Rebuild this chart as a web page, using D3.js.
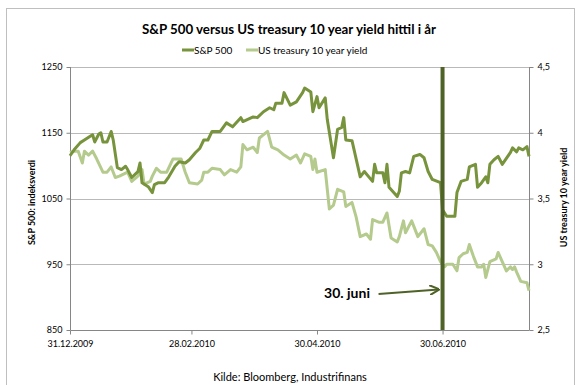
<!DOCTYPE html>
<html>
<head>
<meta charset="utf-8">
<script src="https://cdn.jsdelivr.net/npm/d3@7"></script>
<style>
  body { margin: 0; background: #fff; }
  text { font-family: Lato, "Open Sans", sans-serif; fill: #000; }
</style>
</head>
<body>
<div id="chart"></div>
<script>
(function () {
    // S&P 500 (left axis)
    let spxDates = ["2009-12-31","2010-01-02","2010-01-05","2010-01-07","2010-01-10","2010-01-11","2010-01-12","2010-01-14","2010-01-15","2010-01-16",
        "2010-01-18","2010-01-20","2010-01-21","2010-01-23","2010-01-25","2010-01-27","2010-01-28","2010-01-30","2010-02-02","2010-02-03",
        "2010-02-04","2010-02-07","2010-02-09","2010-02-10","2010-02-12","2010-02-15","2010-02-17","2010-02-20","2010-02-22","2010-02-25",
        "2010-02-27","2010-03-02","2010-03-04","2010-03-06","2010-03-08","2010-03-10","2010-03-14","2010-03-17","2010-03-20","2010-03-24",
        "2010-03-25","2010-03-30","2010-04-01","2010-04-04","2010-04-07","2010-04-09","2010-04-10","2010-04-13","2010-04-14","2010-04-17",
        "2010-04-20","2010-04-23","2010-04-24","2010-04-27","2010-04-28","2010-04-30","2010-05-01","2010-05-04","2010-05-05","2010-05-08",
        "2010-05-10","2010-05-12","2010-05-13","2010-05-14","2010-05-17","2010-05-21","2010-05-23","2010-05-27","2010-05-28","2010-05-29",
        "2010-06-01","2010-06-02","2010-06-03","2010-06-04","2010-06-08","2010-06-09","2010-06-10","2010-06-12","2010-06-14","2010-06-16",
        "2010-06-19","2010-06-21","2010-06-23","2010-06-25","2010-06-29","2010-06-30","2010-07-02","2010-07-06","2010-07-07","2010-07-09",
        "2010-07-12","2010-07-13","2010-07-16","2010-07-17","2010-07-19","2010-07-21","2010-07-22","2010-07-23","2010-07-25","2010-07-27",
        "2010-07-29","2010-08-02","2010-08-03","2010-08-05","2010-08-06","2010-08-08","2010-08-10","2010-08-11"]
    let spxValues = [1115,1124,1135,1139,1145,1147,1136,1148,1150,1136,
        1136,1152,1139,1097,1094,1099,1094,1082,1091,1104,
        1074,1068,1059,1071,1074,1074,1083,1099,1106,1104,
        1109,1120,1126,1139,1139,1152,1152,1165,1159,1173,
        1167,1174,1173,1182,1188,1185,1195,1195,1211,1192,
        1197,1211,1218,1212,1182,1205,1188,1203,1170,1112,
        1155,1158,1173,1139,1138,1083,1091,1076,1102,1089,
        1089,1074,1102,1067,1053,1061,1089,1091,1089,1114,
        1117,1112,1091,1079,1074,1033,1023,1023,1059,1076,
        1079,1098,1102,1067,1074,1083,1074,1102,1109,1114,
        1102,1120,1127,1121,1127,1124,1129,1114]

    // US treasury 10 year yield (right axis)
    let yieldDates = ["2009-12-31","2010-01-02","2010-01-04","2010-01-06","2010-01-07","2010-01-09","2010-01-11","2010-01-13","2010-01-16","2010-01-18",
        "2010-01-20","2010-01-22","2010-01-24","2010-01-28","2010-01-30","2010-02-02","2010-02-04","2010-02-05","2010-02-08","2010-02-09",
        "2010-02-11","2010-02-13","2010-02-16","2010-02-19","2010-02-21","2010-02-23","2010-02-25","2010-02-27","2010-03-03","2010-03-05",
        "2010-03-06","2010-03-08","2010-03-10","2010-03-14","2010-03-16","2010-03-19","2010-03-22","2010-03-24","2010-03-25","2010-03-27",
        "2010-03-30","2010-04-01","2010-04-02","2010-04-06","2010-04-08","2010-04-11","2010-04-14","2010-04-17","2010-04-20","2010-04-22",
        "2010-04-24","2010-04-27","2010-04-28","2010-04-29","2010-04-30","2010-05-04","2010-05-06","2010-05-08","2010-05-10","2010-05-13",
        "2010-05-14","2010-05-17","2010-05-19","2010-05-21","2010-05-24","2010-05-26","2010-05-27","2010-05-30","2010-06-01","2010-06-03",
        "2010-06-05","2010-06-08","2010-06-09","2010-06-11","2010-06-12","2010-06-15","2010-06-18","2010-06-21","2010-06-23","2010-06-25",
        "2010-06-27","2010-06-29","2010-07-01","2010-07-02","2010-07-05","2010-07-07","2010-07-08","2010-07-10","2010-07-12","2010-07-13",
        "2010-07-15","2010-07-17","2010-07-19","2010-07-20","2010-07-21","2010-07-23","2010-07-26","2010-07-27","2010-07-29","2010-07-31",
        "2010-08-02","2010-08-03","2010-08-04","2010-08-05","2010-08-07","2010-08-10","2010-08-11"]
    let yieldValues = [3.85,3.86,3.86,3.77,3.86,3.83,3.86,3.80,3.70,3.70,
        3.74,3.66,3.67,3.70,3.63,3.67,3.72,3.61,3.63,3.67,
        3.73,3.70,3.70,3.80,3.80,3.80,3.70,3.62,3.61,3.64,
        3.70,3.70,3.73,3.72,3.68,3.72,3.70,3.74,3.91,3.87,
        3.89,3.85,3.96,4.01,3.89,3.87,3.83,3.80,3.83,3.77,
        3.84,3.82,3.72,3.80,3.70,3.72,3.42,3.45,3.57,3.55,
        3.44,3.47,3.36,3.21,3.23,3.19,3.34,3.32,3.32,3.39,
        3.20,3.17,3.21,3.33,3.24,3.33,3.21,3.27,3.15,3.14,
        3.09,3.02,2.98,3.00,3.00,2.95,3.05,3.08,3.09,3.15,
        3.06,2.98,2.98,3.00,2.90,3.02,3.04,3.09,3.02,2.95,
        2.98,2.96,2.98,2.94,2.87,2.86,2.80]

    let xTickDates = ["2009-12-31","2010-02-28","2010-04-30","2010-06-30"]
    let leftTicks = [850, 950, 1050, 1150, 1250]
    let rightTicks = [2.5, 3, 3.5, 4, 4.5]
    let markerDate = "2010-06-30"
    let markerLabel = "30. juni"

    let w = 580
    let h = 385
    let left = 70, right = 529, top = 67, bottom = 330

    let darkGreen = "#77933c"
    let lightGreen = "#b5ca8d"
    let markerColor = "#4f6228"

    let parse = d3.timeParse("%Y-%m-%d")
    let fmt = d3.timeFormat("%d.%m.%Y")
    let comma = d => String(d).replace(".", ",")

    let spx = spxDates.map((d, i) => ({ date: parse(d), value: spxValues[i] }))
    let yields = yieldDates.map((d, i) => ({ date: parse(d), value: yieldValues[i] }))

    let svg = d3.select("#chart")
        .append("svg")
        .attr("width", w)
        .attr("height", h)

    // chart border
    svg.append("rect")
        .attr("x", 6.5).attr("y", 8.5)
        .attr("width", 568).attr("height", 390)
        .attr("fill", "none")
        .attr("stroke", "#bfbfbf")

    let x = d3.scaleTime()
        .domain([parse(spxDates[0]), parse(spxDates[spxDates.length - 1])])
        .range([left, right])

    let y = d3.scaleLinear().domain([850, 1250]).range([bottom, top])
    let y2 = d3.scaleLinear().domain([2.5, 4.5]).range([bottom, top])

    // gridlines
    svg.append("g")
        .selectAll("line")
        .data(leftTicks.slice(1))
        .join("line")
        .attr("x1", left).attr("x2", right)
        .attr("y1", d => Math.round(y(d)) + 0.5)
        .attr("y2", d => Math.round(y(d)) + 0.5)
        .attr("stroke", "#b9b9b9")

    // axes
    let xAxis = svg.append("g")
        .attr("transform", "translate(0," + (bottom + 0.5) + ")")
        .call(d3.axisBottom(x).tickValues(xTickDates.map(parse)).tickFormat(fmt).tickSize(4).tickPadding(6))
    let yAxis = svg.append("g")
        .attr("transform", "translate(" + (left + 0.5) + ",0)")
        .call(d3.axisLeft(y).tickValues(leftTicks).tickFormat(d => d).tickSize(4).tickPadding(4))
    let yAxis2 = svg.append("g")
        .attr("transform", "translate(" + (right + 0.5) + ",0)")
        .call(d3.axisRight(y2).tickValues(rightTicks).tickFormat(comma).tickSize(4).tickPadding(4))

    svg.selectAll(".domain, .tick line").attr("stroke", "#868686")
    svg.selectAll(".tick text").style("font-size", "9px").style("font-family", "Lato, sans-serif").attr("fill", "#000")
    yAxis.select(".domain").attr("d", "M0," + top + "V" + bottom)
    yAxis2.select(".domain").attr("d", "M0," + top + "V" + bottom)
    xAxis.select(".domain").attr("d", "M" + (left + 0.5) + ",0H" + (right + 0.5))

    // lines
    let line = scale => d3.line()
        .x(d => x(d.date))
        .y(d => scale(d.value))

    svg.append("path")
        .datum(yields)
        .attr("fill", "none")
        .attr("stroke", lightGreen)
        .attr("stroke-width", 3)
        .attr("stroke-linejoin", "round")
        .attr("d", line(y2))

    svg.append("path")
        .datum(spx)
        .attr("fill", "none")
        .attr("stroke", darkGreen)
        .attr("stroke-width", 3)
        .attr("stroke-linejoin", "round")
        .attr("d", line(y))

    // 30 June marker
    let mx = x(parse(markerDate))
    svg.append("line")
        .attr("x1", mx).attr("x2", mx)
        .attr("y1", top).attr("y2", bottom)
        .attr("stroke", markerColor)
        .attr("stroke-width", 4)

    svg.append("defs").append("marker")
        .attr("id", "arrow")
        .attr("viewBox", "0 0 10 10")
        .attr("refX", 9).attr("refY", 5)
        .attr("markerWidth", 5).attr("markerHeight", 5)
        .attr("orient", "auto")
        .append("path")
        .attr("d", "M0,0L10,5L0,10")
        .attr("fill", "none")
        .attr("stroke", markerColor)
        .attr("stroke-width", 2)

    svg.append("line")
        .attr("x1", mx - 64).attr("y1", 294)
        .attr("x2", mx - 4).attr("y2", 289.5)
        .attr("stroke", markerColor)
        .attr("stroke-width", 2)
        .attr("marker-end", "url(#arrow)")

    svg.append("text")
        .attr("x", 347).attr("y", 298)
        .style("text-anchor", "middle")
        .style("font-size", "14px")
        .style("font-weight", "bold")
        .attr("fill", "#262626")
        .text(markerLabel)

    // title
    svg.append("text")
        .attr("x", 289).attr("y", 34)
        .style("text-anchor", "middle")
        .style("font-size", "14px")
        .style("font-weight", "bold")
        .attr("textLength", 294)
        .attr("lengthAdjust", "spacingAndGlyphs")
        .text("S&P 500 versus US treasury 10 year yield hittil i år")

    // legend
    let legend = [
        { name: "S&P 500", color: darkGreen, x: 182 },
        { name: "US treasury 10 year yield", color: lightGreen, x: 246 }
    ]
    let lg = svg.append("g").selectAll("g").data(legend).join("g")
    lg.append("line")
        .attr("x1", d => d.x).attr("x2", d => d.x + 12)
        .attr("y1", 50).attr("y2", 50)
        .attr("stroke", d => d.color)
        .attr("stroke-width", 3)
    lg.append("text")
        .attr("x", d => d.x + 12).attr("y", 53.5)
        .style("font-size", "10px")
        .text(d => d.name)

    // axis titles
    svg.append("text")
        .attr("transform", "rotate(-90)")
        .attr("x", -(top + bottom) / 2 - 4).attr("y", 35)
        .style("text-anchor", "middle")
        .style("font-size", "9px")
        .style("font-weight", "bold")
        .text("S&P 500: indeksverdi")

    svg.append("text")
        .attr("transform", "rotate(-90)")
        .attr("x", -(top + bottom) / 2 + 1).attr("y", 567)
        .style("text-anchor", "middle")
        .style("font-size", "9px")
        .style("font-weight", "bold")
        .text("US treasury 10 year yield")

    // source
    svg.append("text")
        .attr("x", 290).attr("y", 381)
        .style("text-anchor", "middle")
        .style("font-size", "11px")
        .text("Kilde: Bloomberg,  Industrifinans")
})()
</script>
</body>
</html>
